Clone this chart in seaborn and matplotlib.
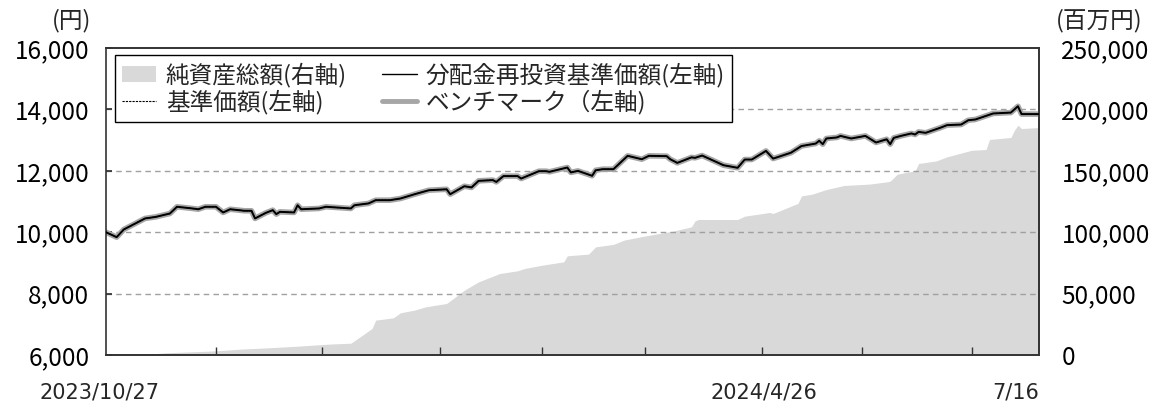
import numpy as np
import pandas as pd
import matplotlib
matplotlib.use("Agg")
import matplotlib.pyplot as plt
import matplotlib.transforms as mtransforms
from matplotlib.patches import Patch
from matplotlib.lines import Line2D
from matplotlib.ticker import FuncFormatter
import seaborn as sns

# 基準価額 (円) - 分配金なしのため3本はほぼ重なる
nav_dates = [
    "2023-10-27", "2023-10-30", "2023-11-01", "2023-11-07", "2023-11-10", "2023-11-14",
    "2023-11-16", "2023-11-20", "2023-11-22", "2023-11-24", "2023-11-27", "2023-11-29",
    "2023-12-01", "2023-12-05", "2023-12-07", "2023-12-08", "2023-12-11", "2023-12-13",
    "2023-12-14", "2023-12-15", "2023-12-19", "2023-12-20", "2023-12-21", "2023-12-26",
    "2023-12-28", "2024-01-04", "2024-01-05", "2024-01-09", "2024-01-11", "2024-01-15",
    "2024-01-18", "2024-01-22", "2024-01-26", "2024-01-31", "2024-02-01", "2024-02-05",
    "2024-02-07", "2024-02-09", "2024-02-13", "2024-02-14", "2024-02-16", "2024-02-20",
    "2024-02-21", "2024-02-26", "2024-02-28", "2024-02-29", "2024-03-05", "2024-03-06",
    "2024-03-08", "2024-03-12", "2024-03-13", "2024-03-15", "2024-03-18", "2024-03-22",
    "2024-03-26", "2024-03-28", "2024-04-02", "2024-04-03", "2024-04-05", "2024-04-09",
    "2024-04-10", "2024-04-12", "2024-04-18", "2024-04-22", "2024-04-24", "2024-04-26",
    "2024-04-30", "2024-05-02", "2024-05-07", "2024-05-10", "2024-05-14", "2024-05-15",
    "2024-05-16", "2024-05-17", "2024-05-20", "2024-05-21", "2024-05-24", "2024-05-28",
    "2024-05-31", "2024-06-03", "2024-06-04", "2024-06-05", "2024-06-07", "2024-06-10",
    "2024-06-11", "2024-06-12", "2024-06-14", "2024-06-18", "2024-06-20", "2024-06-24",
    "2024-06-26", "2024-06-28", "2024-07-03", "2024-07-08", "2024-07-10", "2024-07-11",
    "2024-07-16",
]
nav_reinvest = [
    10000, 9840, 10090, 10450, 10500, 10610,
    10830, 10780, 10750, 10830, 10830, 10645,
    10750, 10700, 10700, 10450, 10630, 10720,
    10590, 10665, 10645, 10880, 10750, 10775,
    10830, 10775, 10880, 10940, 11045, 11045,
    11100, 11240, 11370, 11400, 11240, 11500,
    11460, 11675, 11700, 11640, 11830, 11830,
    11750, 11990, 11990, 11970, 12110, 11950,
    12000, 11840, 12020, 12055, 12055, 12490,
    12380, 12490, 12480, 12380, 12260, 12440,
    12425, 12500, 12185, 12100, 12370, 12370,
    12650, 12400, 12590, 12810, 12890, 12980,
    12870, 13055, 13090, 13140, 13055, 13140,
    12925, 13030, 12870, 13075, 13140, 13220,
    13185, 13270, 13240, 13400, 13490, 13510,
    13650, 13675, 13870, 13900, 14105, 13850,
    13850,
]
nav_base = list(nav_reinvest)
benchmark = list(nav_reinvest)

# 純資産総額 (百万円)
asset_dates = [
    "2023-10-27", "2023-11-06", "2023-11-13", "2023-11-27", "2023-12-04", "2023-12-12",
    "2023-12-20", "2023-12-29", "2024-01-04", "2024-01-08", "2024-01-10", "2024-01-11",
    "2024-01-16", "2024-01-18", "2024-01-22", "2024-01-25", "2024-01-31", "2024-02-01",
    "2024-02-05", "2024-02-09", "2024-02-15", "2024-02-20", "2024-02-22", "2024-02-27",
    "2024-03-04", "2024-03-05", "2024-03-11", "2024-03-13", "2024-03-18", "2024-03-21",
    "2024-03-27", "2024-04-04", "2024-04-05", "2024-04-09", "2024-04-10", "2024-04-11",
    "2024-04-22", "2024-04-24", "2024-05-01", "2024-05-02", "2024-05-09", "2024-05-10",
    "2024-05-13", "2024-05-17", "2024-05-22", "2024-05-29", "2024-06-03", "2024-06-04",
    "2024-06-06", "2024-06-11", "2024-06-12", "2024-06-17", "2024-06-20", "2024-06-27",
    "2024-07-01", "2024-07-02", "2024-07-08", "2024-07-09", "2024-07-10", "2024-07-11",
    "2024-07-16",
]
net_assets = [
    100, 300, 1800, 3400, 4800, 5900,
    7200, 8900, 9600, 17600, 21700, 28400,
    30300, 34400, 36600, 39200, 42000, 44100,
    52800, 59600, 66400, 68600, 70500, 73200,
    75900, 80800, 82200, 88100, 90100, 93600,
    97000, 101000, 101700, 104400, 109300, 110400,
    110400, 113100, 116100, 115300, 123500, 129600,
    131000, 134800, 138100, 139200, 141000, 141600,
    147300, 150000, 156000, 158100, 161400, 166800,
    167400, 175600, 177200, 183100, 187200, 184500,
    185300,
]

label_dates = ["2023-10-27", "2024-04-26", "2024-07-16"]
label_texts = ["2023/10/27", "2024/4/26", "7/16"]
minor_tick_dates = ["2023-11-27", "2023-12-27", "2024-01-29", "2024-02-27",
                    "2024-03-27", "2024-04-29", "2024-05-27", "2024-06-27"]

left_ticks = [6000, 8000, 10000, 12000, 14000, 16000]
right_ticks = [0, 50000, 100000, 150000, 200000, 250000]

df_nav = pd.DataFrame({
    "date": pd.to_datetime(nav_dates),
    "reinvest": nav_reinvest,
    "base": nav_base,
    "bench": benchmark,
})
df_assets = pd.DataFrame({"date": pd.to_datetime(asset_dates), "assets": net_assets})

sns.set_theme(style="white")
plt.rcParams["font.family"] = ["Noto Sans CJK JP", "DejaVu Sans"]

AREA = "#d9d9d9"
BENCH = "#a6a6a6"

fig = plt.figure(figsize=(11.56, 4.01), dpi=100)
ax = fig.add_axes([0.0917, 0.1147, 0.8073, 0.7653])
ax2 = ax.twinx()

# 純資産総額 (右軸) - 背面
ax2.fill_between(df_assets["date"], df_assets["assets"], 0, color=AREA, lw=0)
ax2.set_ylim(0, 250000)

ax.set_zorder(ax2.get_zorder() + 1)
ax.patch.set_visible(False)

for v in [8000, 10000, 12000, 14000]:
    ax.axhline(v, color="#a0a0a0", lw=1.0, ls=(0, (4, 3)), zorder=0.5)

sns.lineplot(data=df_nav, x="date", y="bench", ax=ax, color=BENCH, lw=4.0, zorder=2)
sns.lineplot(data=df_nav, x="date", y="base", ax=ax, color="black", lw=0.8,
             ls=(0, (2, 1)), zorder=3)
sns.lineplot(data=df_nav, x="date", y="reinvest", ax=ax, color="black", lw=1.4, zorder=4)

ax.set_ylim(6000, 16000)
ax.set_xlim(pd.Timestamp("2023-10-27"), pd.Timestamp("2024-07-16"))
ax.set_xlabel("")
ax.set_ylabel("")
ax2.set_ylabel("")

tick_font = 17.5
ax.set_yticks(left_ticks)
ax.yaxis.set_major_formatter(FuncFormatter(lambda v, p: f"{int(v):,}"))
ax2.set_yticks(right_ticks)
ax2.yaxis.set_major_formatter(FuncFormatter(lambda v, p: f"{int(v):,}"))
ax.tick_params(axis="y", labelsize=tick_font, direction="in", length=4, pad=12,
               colors="#333333", labelcolor="black")
ax2.tick_params(axis="y", labelsize=tick_font, direction="in", length=0, pad=16,
                labelcolor="black")

ax.set_xticks(pd.to_datetime(label_dates))
ax.set_xticklabels(label_texts)
ax.set_xticks(pd.to_datetime(minor_tick_dates), minor=True)
ax.tick_params(axis="x", which="major", length=0, pad=20, labelsize=15)
ax.tick_params(axis="x", which="minor", direction="in", length=6, width=1,
               color="#333333", bottom=True)
xlabels = ax.get_xticklabels()
for lab in xlabels:
    lab.set_family(["Liberation Sans Narrow", "DejaVu Sans"])
xlabels[-1].set_horizontalalignment("right")
# ラベル位置の微調整 (元図に合わせる)
shifts = [-7, 12, 0]
for lab, dx in zip(xlabels, shifts):
    lab.set_transform(lab.get_transform() +
                      mtransforms.ScaledTranslation(dx / 100, 0, fig.dpi_scale_trans))

for a in (ax, ax2):
    for s in a.spines.values():
        s.set_color("#333333")
        s.set_linewidth(1.2)
ax2.spines["left"].set_visible(False)

fig.text(0.079, 0.948, "(円)", ha="right", va="center", fontsize=17)
fig.text(0.913, 0.948, "(百万円)", ha="left", va="center", fontsize=17)

handles = [
    Patch(facecolor=AREA, edgecolor="none"),
    Line2D([], [], color="black", lw=0.8, ls=(0, (2, 1))),
    Line2D([], [], color="black", lw=1.0),
    Line2D([], [], color=BENCH, lw=3.5),
]
labels = ["純資産総額(右軸)", "基準価額(左軸)", "分配金再投資基準価額(左軸)", "ベンチマーク（左軸)"]
leg = ax.legend(handles, labels, ncol=2, loc="upper left",
                bbox_to_anchor=(0.0096, 0.977), borderaxespad=0,
                fontsize=17, frameon=True, fancybox=False, edgecolor="black",
                framealpha=1, handlelength=1.45, handletextpad=0.4,
                columnspacing=1.5, labelspacing=0.12, borderpad=0.3)
leg.get_frame().set_linewidth(1.0)

fig.savefig("out.png", dpi=100)
